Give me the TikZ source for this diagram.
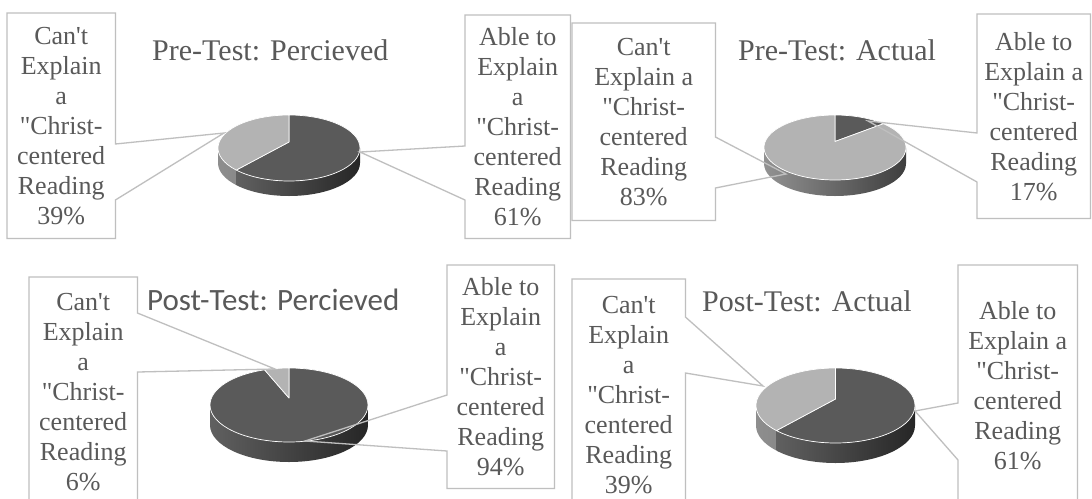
\documentclass[tikz,border=0pt]{standalone}
\usepackage{fontspec}
\setmainfont{Liberation Serif}
\newfontfamily\calfont{Carlito}
\usetikzlibrary{calc}
\definecolor{txt}{HTML}{595959}
\definecolor{lbl}{HTML}{BFBFBF}
\definecolor{dtop}{HTML}{5A5A5A}
\definecolor{ltop}{HTML}{B3B3B3}
\definecolor{dsideL}{HTML}{606060}
\definecolor{dsideR}{HTML}{262626}
\definecolor{lsideL}{HTML}{929292}
\definecolor{lsideR}{HTML}{3E3E3E}
\definecolor{lsideA}{HTML}{8E8E8E}
\definecolor{lsideB}{HTML}{7C7C7C}
\newcommand\pieside[7]{% #1 center, #2 rx, #3 ry, #4 depth, #5 a, #6 b, #7 style
  \path[#7] (#1) ++(#5:#2 and #3) arc[start angle=#5,end angle=#6,x radius=#2,y radius=#3] -- ++(0,-#4) arc[start angle=#6,end angle=#5,x radius=#2,y radius=#3] -- cycle;}
\newcommand\pietop[7]{% #1 ellipse center, #2 apex, #3 rx, #4 ry, #5 a, #6 b, #7 style
  \path[#7] (#2) -- ($(#1)+(#5:#3 and #4)$) arc[start angle=#5,end angle=#6,x radius=#3,y radius=#4] -- cycle;}
\tikzset{
  callout/.style={draw=lbl, line width=1.3pt, line join=miter},
  cbox/.style={inner sep=0pt, anchor=north west, align=center, text=txt, font=\fontsize{26}{30}\selectfont},
  ttl/.style={anchor=base west, text=txt, inner sep=0pt, font=\fontsize{30}{34}\selectfont},
  topface/.style={draw=white, line width=0.7pt, line join=round},
}
\begin{document}
\begin{tikzpicture}[x=1pt,y=1pt]
\useasboundingbox (0,0) rectangle (1092,-498);
\clip (0,0) rectangle (1092,-498);
\fill[white] (0,0) rectangle (1092,-498);

% ---------- pie 1: Pre-Test Percieved
\coordinate (e1) at (289,-148);
\coordinate (c1) at (289,-142);
\pieside{e1}{71}{33}{15}{180}{222}{left color=lsideA, right color=lsideB}
\pieside{e1}{71}{33}{15}{222}{360}{left color=dsideL, right color=dsideR}
\pietop{e1}{c1}{71}{33}{90}{-138}{fill=dtop, topface}
\pietop{e1}{c1}{71}{33}{222}{90}{fill=ltop, topface}

% ---------- pie 2: Pre-Test Actual
\coordinate (e2) at (835,-147.5);
\coordinate (c2) at (835,-141.5);
\pieside{e2}{71}{32.5}{16}{180}{360}{left color=lsideL, right color=lsideR}
\pietop{e2}{c2}{71}{32.5}{90}{47}{fill=dtop, topface}
\pietop{e2}{c2}{71}{32.5}{47}{-270}{fill=ltop, topface}

% ---------- pie 3: Post-Test Percieved
\coordinate (e3) at (289,-405);
\coordinate (c3) at (289,-398);
\pieside{e3}{79}{37}{20}{180}{360}{left color=dsideL, right color=dsideR}
\pietop{e3}{c3}{79}{37}{90}{-252}{fill=dtop, topface}
\pietop{e3}{c3}{79}{37}{108}{90}{fill=ltop, topface}

% ---------- pie 4: Post-Test Actual
\coordinate (e4) at (835.5,-405.5);
\coordinate (c4) at (835.5,-399);
\pieside{e4}{79.5}{37.5}{20}{180}{222}{left color=lsideA, right color=lsideB}
\pieside{e4}{79.5}{37.5}{20}{222}{360}{left color=dsideL, right color=dsideR}
\pietop{e4}{c4}{79.5}{37.5}{90}{-138}{fill=dtop, topface}
\pietop{e4}{c4}{79.5}{37.5}{222}{90}{fill=ltop, topface}

% ---------- titles
\node[ttl] (h1) at (152,-60) {Pre-Test: Percieved};
\node[ttl] (h2) at (738,-60) {Pre-Test: Actual};
\node[ttl, font=\calfont\fontsize{31}{36}\selectfont] (h3) at (147,-310) {Post-Test: Percieved};
\node[ttl] (h4) at (702,-311) {Post-Test: Actual};

% ---------- callouts
\node[cbox, minimum width=108pt, minimum height=225pt] (b1) at (7,-13)
  {Can\textquotesingle t\\Explain\\a\\\textquotedbl Christ-\\centered\\Reading\\39\%};
\coordinate (t1) at (224,-133);
\draw[callout] (b1.north west) -- (b1.north east) -- (b1.east |- 0,-144) -- (t1) -- (b1.east |- 0,-200) -- (b1.south east) -- (b1.south west) -- cycle;

\node[cbox, minimum width=105pt, minimum height=223pt] (b2) at (465,-15)
  {Able to\\Explain\\a\\\textquotedbl Christ-\\centered\\Reading\\61\%};
\coordinate (t2) at (360,-152);
\draw[callout] (b2.north west) -- (b2.north east) -- (b2.south east) -- (b2.south west) -- (b2.west |- 0,-200) -- (t2) -- (b2.west |- 0,-146) -- cycle;

\node[cbox, minimum width=143pt, minimum height=197pt] (b3) at (572,-23)
  {Can\textquotesingle t\\Explain a\\\textquotedbl Christ-\\centered\\Reading\\83\%};
\coordinate (t3) at (786,-174);
\draw[callout] (b3.north west) -- (b3.north east) -- (b3.east |- 0,-137) -- (t3) -- (b3.east |- 0,-188) -- (b3.south east) -- (b3.south west) -- cycle;

\node[cbox, minimum width=113pt, minimum height=204pt] (b4) at (977,-14)
  {Able to\\Explain a\\\textquotedbl Christ-\\centered\\Reading\\17\%};
\coordinate (t4) at (868,-121);
\draw[callout] (b4.north west) -- (b4.north east) -- (b4.south east) -- (b4.south west) -- (b4.west |- 0,-182) -- (t4) -- (b4.west |- 0,-133) -- cycle;

\node[cbox, minimum width=108pt, minimum height=230pt] (b5) at (29,-277)
  {Can\textquotesingle t\\Explain\\a\\\textquotedbl Christ-\\centered\\Reading\\6\%};
\coordinate (t5) at (275,-369);
\draw[callout] (b5.north west) -- (b5.north east) -- (b5.east |- 0,-313) -- (t5) -- (b5.east |- 0,-372) -- (b5.south east) -- (b5.south west) -- cycle;

\node[cbox, minimum width=107pt, minimum height=223pt] (b6) at (447,-265)
  {Able to\\Explain\\a\\\textquotedbl Christ-\\centered\\Reading\\94\%};
\coordinate (t6) at (305,-441);
\draw[callout] (b6.north west) -- (b6.north east) -- (b6.south east) -- (b6.south west) -- (b6.west |- 0,-451) -- (t6) -- (b6.west |- 0,-395) -- cycle;

\node[cbox, minimum width=113pt, minimum height=232pt] (b7) at (572,-279)
  {Can\textquotesingle t\\Explain\\a\\\textquotedbl Christ-\\centered\\Reading\\39\%};
\coordinate (t7) at (763,-386);
\draw[callout] (b7.north west) -- (b7.north east) -- (b7.east |- 0,-317) -- (t7) -- (b7.east |- 0,-373) -- (b7.south east) -- (b7.south west) -- cycle;

\node[cbox, minimum width=119pt, minimum height=240pt] (b8) at (958,-265)
  {Able to\\Explain a\\\textquotedbl Christ-\\centered\\Reading\\61\%};
\coordinate (t8) at (915,-411);
\draw[callout] (b8.north west) -- (b8.north east) -- (b8.south east) -- (b8.south west) -- (b8.west |- 0,-460) -- (t8) -- (b8.west |- 0,-403) -- cycle;
\end{tikzpicture}
\end{document}
